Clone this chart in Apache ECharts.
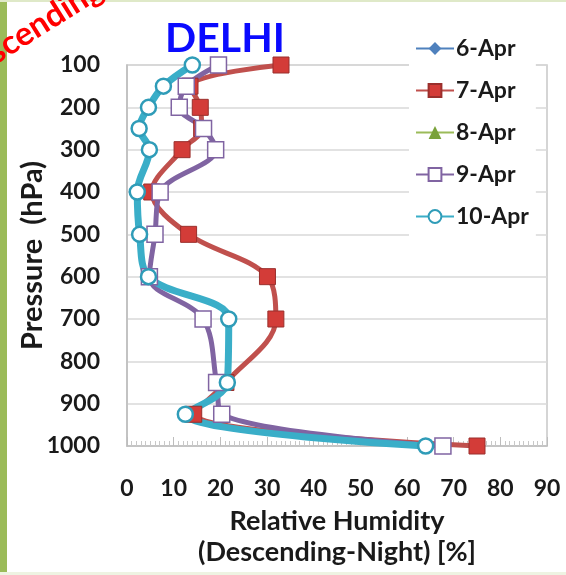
<!DOCTYPE html>
<html>
<head>
<meta charset="utf-8">
<script src="https://cdn.jsdelivr.net/npm/echarts@6/dist/echarts.min.js"></script>
<style>
html,body{margin:0;padding:0;background:#fff;}
#chart{width:566px;height:575px;}
</style>
</head>
<body>
<div id="chart"></div>
<script>
// Pressure levels (hPa)
var levels = [100, 150, 200, 250, 300, 400, 500, 600, 700, 850, 925, 1000];
// Relative humidity (%) per date
var rh6Apr = [];
var rh7Apr = [33, 13.5, 15.7, 16, 11.8, 5.3, 13.2, 30.1, 31.9, 21.2, 14.3, 75];
var rh8Apr = [];
var rh9Apr = [19.6, 12.7, 11.2, 16.4, 19, 7.1, 6, 4.8, 16.3, 19.2, 20.3, 67.7];
var rh10Apr = [14, 7.8, 4.6, 2.6, 4.8, 2.2, 2.7, 4.6, 21.8, 21.5, 12.5, 64];
var seriesNames = ['6-Apr', '7-Apr', '8-Apr', '9-Apr', '10-Apr'];
var xTicks = [0, 10, 20, 30, 40, 50, 60, 70, 80, 90];
var yTicks = [100, 200, 300, 400, 500, 600, 700, 800, 900, 1000];

function pairs(vals) {
  return vals.map(function (v, i) { return [v, levels[i]]; });
}

var FONT = 'Lato, "Open Sans", sans-serif';
var chart = echarts.init(document.getElementById('chart'), null, {renderer: 'canvas'});

var option = {
  backgroundColor: '#ffffff',
  animation: false,
  graphic: [
    {type: 'rect', shape: {x: 0, y: 0, width: 7, height: 575}, style: {fill: '#9BBB59'}, z: 100},
    {type: 'rect', shape: {x: 0, y: 0, width: 566, height: 2}, style: {fill: '#dfe9c8'}, z: 100},
    {type: 'rect', shape: {x: 0, y: 572, width: 566, height: 3}, style: {fill: '#eef3e2'}, z: 100},
    {type: 'text', x: -37, y: 92, rotation: 0.56, z: 110,
      style: {text: 'Descending', font: 'bold 33px ' + FONT, fill: '#ff0000', align: 'left', verticalAlign: 'bottom'}},
    {type: 'text', x: 225, y: 39, z: 90,
      style: {text: 'DELHI', font: 'bold 41px ' + FONT, fill: '#0a0aff', align: 'center', verticalAlign: 'middle'}}
  ],
  legend: {
    orient: 'vertical',
    left: 409,
    top: 27,
    padding: [10, 7, 10, 6],
    backgroundColor: '#ffffff',
    itemWidth: 38,
    itemHeight: 16,
    itemGap: 19,
    data: seriesNames,
    textStyle: {fontFamily: FONT, fontWeight: 'bold', fontSize: 23, color: '#1a1a1a', padding: [0, 0, 0, -3]}
  },
  grid: {
    left: 127, right: 19, top: 65, bottom: 129,
    show: true, borderColor: '#c8c8c8', borderWidth: 1.5, backgroundColor: 'transparent'
  },
  xAxis: {
    type: 'value', min: xTicks[0], max: xTicks[xTicks.length - 1], interval: 10,
    name: 'Relative Humidity\n(Descending-Night) [%]',
    nameLocation: 'middle', nameGap: 60, nameMoveOverlap: false,
    nameTextStyle: {fontFamily: FONT, fontWeight: 'bold', fontSize: 27, color: '#1a1a1a', lineHeight: 31},
    axisLine: {show: true, lineStyle: {color: '#bdbdbd', width: 1.5}},
    axisTick: {show: true, inside: true, length: 9, lineStyle: {color: '#bdbdbd'}},
    minorTick: {show: true, splitNumber: 10, length: 5, lineStyle: {color: '#c8c8c8'}},
    splitLine: {show: false},
    axisLabel: {margin: 31, fontFamily: FONT, fontWeight: 'bold', fontSize: 23, color: '#1a1a1a'}
  },
  yAxis: {
    type: 'value', inverse: true, min: yTicks[0], max: yTicks[yTicks.length - 1], interval: 100,
    name: 'Pressure  (hPa)', nameLocation: 'middle', nameGap: 80, nameRotate: 90, nameMoveOverlap: false,
    nameTextStyle: {fontFamily: FONT, fontWeight: 'bold', fontSize: 29, color: '#1a1a1a'},
    axisLine: {show: true, lineStyle: {color: '#bdbdbd', width: 1.5}},
    axisTick: {show: false},
    splitLine: {show: true, lineStyle: {color: '#d9d9d9', width: 1.5}},
    axisLabel: {margin: 27, fontFamily: FONT, fontWeight: 'bold', fontSize: 23, color: '#1a1a1a',
      formatter: function (v) { return String(v); }}
  },
  series: [
    {name: '6-Apr', type: 'line', data: pairs(rh6Apr), smooth: 0.35,
      symbol: 'diamond', symbolSize: 14, color: '#4F81BD',
      lineStyle: {color: '#4F81BD', width: 5}, itemStyle: {color: '#4F81BD'}},
    {name: '7-Apr', type: 'line', data: pairs(rh7Apr), smooth: 0.35,
      symbol: 'rect', symbolSize: 16, showAllSymbol: true, color: '#C0504D',
      lineStyle: {color: '#C0504D', width: 5},
      itemStyle: {color: '#d33c38', borderColor: '#9a2f2c', borderWidth: 1}},
    {name: '8-Apr', type: 'line', data: pairs(rh8Apr), smooth: 0.35,
      symbol: 'triangle', symbolSize: 14, color: '#9BBB59',
      lineStyle: {color: '#9BBB59', width: 5}, itemStyle: {color: '#7aa23a'}},
    {name: '9-Apr', type: 'line', data: pairs(rh9Apr), smooth: 0.35,
      symbol: 'rect', symbolSize: 16, showAllSymbol: true, color: '#8064A2',
      lineStyle: {color: '#8064A2', width: 5},
      itemStyle: {color: '#ffffff', borderColor: '#8064A2', borderWidth: 1.5}},
    {name: '10-Apr', type: 'line', data: pairs(rh10Apr), smooth: 0.35,
      symbol: 'circle', symbolSize: 15, showAllSymbol: true, color: '#4BACC6',
      lineStyle: {color: '#3aaec8', width: 7},
      itemStyle: {color: '#ffffff', borderColor: '#2f9cb8', borderWidth: 2.5}}
  ]
};
chart.setOption(option);
</script>
</body>
</html>
